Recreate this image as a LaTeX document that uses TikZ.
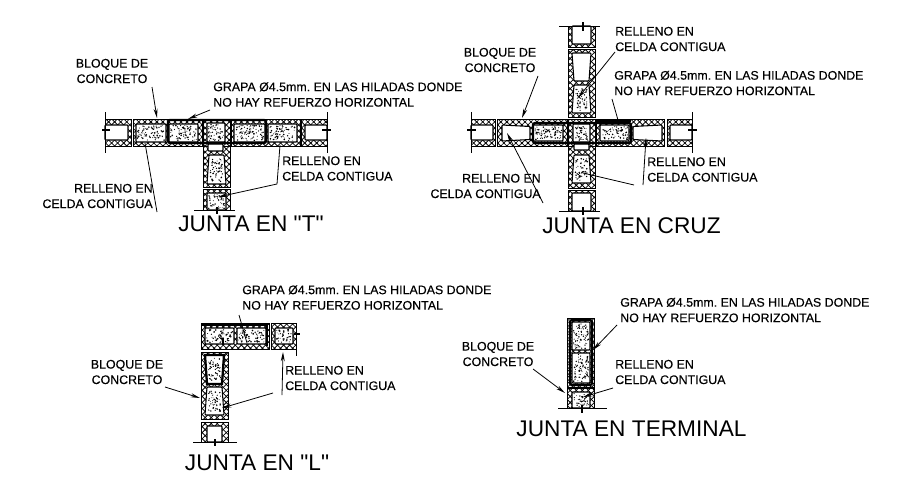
\documentclass[tikz,border=0pt]{standalone}
\usepackage{fontspec}
\setmainfont{Liberation Sans}[Ligatures=TeXOff]
\newfontfamily\lblfont{Liberation Sans}[Ligatures=TeXOff,FakeBold=0.25]
\usetikzlibrary{patterns.meta,arrows.meta}
\tikzset{
  wall/.style={draw=black,line width=.7pt,pattern={Lines[angle=45,distance=3.2pt,line width=.6pt]},postaction={pattern={Lines[angle=-45,distance=3.2pt,line width=.6pt]}}},
  cellbox/.style={draw=black,line width=.8pt,fill=white,rounded corners=.6pt},
  grapa/.style={draw=black,line width=1.7pt,rounded corners=1.5pt},
  thickbar/.style={draw=black,line width=1.7pt},
  endline/.style={draw=black,line width=.6pt},
  tick/.style={draw=black,line width=1pt},
  leader/.style={draw=black,line width=.6pt},
  arrowed/.style={leader,-{Stealth[length=7pt,width=3pt]}},
  lbl/.style={inner sep=0pt,font=\lblfont\fontsize{9.3}{11.6}\selectfont},
  ttl/.style={inner sep=0pt,font=\fontsize{17}{20}\selectfont},
}
\newcommand\wallbox[4]{\path[wall] (#1,#2) rectangle (#3,#4);}
\newcommand\speckle[4]{%
  \pgfmathtruncatemacro\ndots{abs((#3-#1)*(#4-#2))/7}
  \foreach \i in {1,...,\ndots}{
    \pgfmathsetmacro\xx{#1+1.5+rnd*(#3-#1-3)}
    \pgfmathsetmacro\yy{#2+1.5+rnd*(#4-#2-3)}
    \pgfmathsetmacro\rr{.4+.5*rnd}
    \fill[black] (\xx,\yy) circle (\rr);
  }}
\newcommand\emptycell[4]{\path[cellbox] (#1,#2) rectangle (#3,#4);}
\newcommand\fullcell[4]{\path[cellbox] (#1,#2) rectangle (#3,#4);\speckle{#1}{#2}{#3}{#4}}
% cell tapering from top (inset #5) to bottom (inset #6)
\newcommand\vtaper[6]{\path[cellbox] ({#1+#5},#2) -- ({#3-#5},#2) -- ({#3-#6},#4) -- ({#1+#6},#4) -- cycle;}
% cell tapering from left (inset #5) to right (inset #6)
\newcommand\htaper[6]{\path[cellbox] (#1,{#2+#5}) -- (#3,{#2+#6}) -- (#3,{#4-#6}) -- (#1,{#4-#5}) -- cycle;}
\begin{document}
\frenchspacing
\begin{tikzpicture}[x=.75pt,y=-.75pt]
\pgfmathsetseed{11}
\useasboundingbox (0,0) rectangle (898,496);
\fill[white] (0,0) rectangle (898,496);

%% ---------- JUNTA EN "T"
\wallbox{105}{119}{131}{146}\emptycell{105}{125}{128}{140}
\wallbox{133}{119}{202}{146}\fullcell{136}{124}{166}{142}\fullcell{169}{124}{198}{142}
\wallbox{203}{119}{230}{146}\fullcell{207}{123}{225}{142}
\wallbox{231}{119}{300}{146}\fullcell{234}{124}{265}{142}\fullcell{268}{124}{297}{142}
\wallbox{301}{119}{327}{146}\emptycell{305}{125}{327}{140}
\wallbox{203}{146}{230}{187}\emptycell{208}{144}{223}{151}\vtaper{207}{155}{226}{184}{2}{0}\speckle{209}{157}{224}{183}
\wallbox{203}{189}{230}{210}\fullcell{207}{193}{226}{210}
\path[grapa] (168,120) rectangle (266,143);
\draw[endline] (105,112) -- (105,153); \draw[tick] (102,130) -- (110,130);
\draw[endline] (327,112) -- (327,153); \draw[tick] (322,130) -- (331,130);
\draw[endline] (194,210) -- (235,210); \draw[tick] (217,207) -- (217,214);

\node[lbl,align=center] (tbloque) at (112,71) {BLOQUE DE\\CONCRETO};
\node[lbl,align=left,anchor=west] (tgrapa) at (213,94.5) {GRAPA Ø4.5mm. EN LAS HILADAS DONDE\\NO HAY REFUERZO HORIZONTAL};
\node[lbl,align=left,anchor=west] (trellr) at (282,168.5) {RELLENO EN\\CELDA CONTIGUA};
\node[lbl,align=right,anchor=east] (trelll) at (153,196) {RELLENO EN\\CELDA CONTIGUA};
\node[ttl] (ttitle) at (251,224) {JUNTA EN "T"};
\coordinate (ta1) at (152,87); \coordinate (ta2) at (157,118);
\coordinate (tb1) at (210,110); \coordinate (tb2) at (188,119);
\coordinate (tc1) at (157,212); \coordinate (tc2) at (145,143);
\coordinate (td0) at (277,184); \coordinate (td1) at (280,145); \coordinate (td2) at (218,197);
\draw[arrowed] (ta1) -- (ta2);
\draw[arrowed] (tb1) -- (tb2);
\draw[leader] (tc1) -- (tc2);
\draw[leader] (td0) -- (td1);
\draw[arrowed] (td0) -- (td2);

%% ---------- JUNTA EN CRUZ
\wallbox{471}{119}{495}{146}\emptycell{471}{125}{493}{140}
\wallbox{497}{119}{567}{146}\htaper{502}{125}{530}{141}{0}{1.5}\fullcell{533}{125}{563}{141}
\wallbox{568}{119}{595}{146}\fullcell{573}{124}{590}{142}
\wallbox{596}{119}{664}{146}\fullcell{600}{125}{629}{141}\htaper{633}{125}{662}{141}{1.5}{0}
\wallbox{667}{119}{692}{146}\emptycell{670}{125}{692}{140}
\wallbox{568}{26}{595}{47}\emptycell{572}{26}{591}{44}
\wallbox{568}{49}{595}{117}\vtaper{572}{53}{591}{81}{0}{2}\vtaper{572}{85}{591}{113}{2}{0}\speckle{574}{87}{589}{112}
\wallbox{568}{146}{595}{188}\emptycell{574}{144}{589}{150}\vtaper{572}{155}{591}{183}{2}{0}\speckle{574}{157}{589}{182}
\wallbox{568}{190}{595}{211}\emptycell{572}{193}{591}{211}
\path[grapa] (533,123) rectangle (631,143);
\draw[thickbar] (596,120.5) -- (631,120.5);
\draw[endline] (471,112) -- (471,153); \draw[tick] (467,130) -- (476,130);
\draw[endline] (692,112) -- (692,153); \draw[tick] (688,130) -- (697,130);
\draw[endline] (559,26) -- (600,26); \draw[tick] (583,22) -- (583,31);
\draw[endline] (559,211) -- (600,211); \draw[tick] (583,207) -- (583,215);

\node[lbl,align=center] (cbloque) at (500,60) {BLOQUE DE\\CONCRETO};
\node[lbl,align=left,anchor=west] (crellt) at (615,39) {RELLENO EN\\CELDA CONTIGUA};
\node[lbl,align=left,anchor=west] (cgrapa) at (614,83) {GRAPA Ø4.5mm. EN LAS HILADAS DONDE\\NO HAY REFUERZO HORIZONTAL};
\node[lbl,align=left,anchor=west] (crellr) at (647,169.5) {RELLENO EN\\CELDA CONTIGUA};
\node[lbl,align=right,anchor=east] (crelll) at (541,186) {RELLENO EN\\CELDA CONTIGUA};
\node[ttl] (ctitle) at (631.5,226) {JUNTA EN CRUZ};
\coordinate (ca1) at (538,76); \coordinate (ca2) at (522,118);
\coordinate (cb1) at (615,52); \coordinate (cb2) at (578,98);
\coordinate (cc1) at (612,99); \coordinate (cc2) at (618,120);
\coordinate (cd1) at (543,203); \coordinate (cd2) at (507,133);
\coordinate (ce0) at (643,185); \coordinate (ce1) at (646,138);
\coordinate (cf0) at (634,185); \coordinate (cf2) at (583,173);
\draw[arrowed] (ca1) -- (ca2);
\draw[arrowed] (cb1) -- (cb2);
\draw[leader] (cc1) -- (cc2);
\draw[arrowed] (cd1) -- (cd2);
\draw[arrowed] (ce0) -- (ce1);
\draw[leader] (cf0) -- (cf2);

%% ---------- JUNTA EN "L"
\wallbox{201}{323}{269}{349}\fullcell{205}{328}{234}{344}\fullcell{237}{328}{266}{344}
\wallbox{271}{323}{296}{349}\fullcell{275}{328}{293}{344}
\wallbox{201}{352}{228}{419}\vtaper{205}{355}{224}{384}{0}{2}\speckle{207}{356}{222}{383}\vtaper{205}{387}{224}{415}{2}{0}\speckle{207}{389}{222}{414}
\wallbox{201}{422}{228}{442}\emptycell{207}{426}{222}{442}
\draw[thickbar] (201,325) -- (267,325) -- (267,346);
\draw[thickbar] (205,355) -- (224,355) -- (222,384) -- (207,384) -- cycle;
\draw[thickbar] (223,345) -- (223,338);
\draw[endline] (296,323) -- (296,356); \draw[tick] (294,334) -- (300,334);
\draw[endline] (193,442) -- (237,442); \draw[tick] (215,439) -- (215,446);

\node[lbl,align=left,anchor=west] (lgrapa) at (242,297.5) {GRAPA Ø4.5mm. EN LAS HILADAS DONDE\\NO HAY REFUERZO HORIZONTAL};
\node[lbl,align=center] (lbloque) at (127,372) {BLOQUE DE\\CONCRETO};
\node[lbl,align=left,anchor=west] (lrell) at (285,378) {RELLENO EN\\CELDA CONTIGUA};
\node[ttl] (ltitle) at (257,463) {JUNTA EN "L"};
\coordinate (la1) at (239,315); \coordinate (la2) at (247,343);
\coordinate (lb0) at (282,395); \coordinate (lb1) at (283,352);
\coordinate (lc0) at (273,393); \coordinate (lc2) at (222,408);
\coordinate (ld1) at (165,387); \coordinate (ld2) at (200,398);
\draw[leader] (la1) -- (la2);
\draw[arrowed] (lb0) -- (lb1);
\draw[arrowed] (lc0) -- (lc2);
\draw[arrowed] (ld1) -- (ld2);

%% ---------- JUNTA EN TERMINAL
\wallbox{567}{318}{594}{387}\fullcell{572}{322}{590}{350}\fullcell{572}{353}{590}{383}
\wallbox{567}{388}{594}{408}\fullcell{572}{392}{590}{408}
\path[grapa] (570,320) rectangle (592,385);
\draw[endline] (558,408) -- (607,408); \draw[tick] (582,405) -- (582,413);

\node[lbl,align=left,anchor=west] (egrapa) at (620,310) {GRAPA Ø4.5mm. EN LAS HILADAS DONDE\\NO HAY REFUERZO HORIZONTAL};
\node[lbl,align=center] (ebloque) at (498,354) {BLOQUE DE\\CONCRETO};
\node[lbl,align=left,anchor=west] (erell) at (615,372) {RELLENO EN\\CELDA CONTIGUA};
\node[ttl] (etitle) at (631.5,429) {JUNTA EN TERMINAL};
\coordinate (ea1) at (617,325); \coordinate (ea2) at (593,350);
\coordinate (eb1) at (533,369); \coordinate (eb2) at (565,393);
\coordinate (ec1) at (613,388); \coordinate (ec2) at (583,397);
\draw[arrowed] (ea1) -- (ea2);
\draw[arrowed] (eb1) -- (eb2);
\draw[arrowed] (ec1) -- (ec2);
\end{tikzpicture}
\end{document}
